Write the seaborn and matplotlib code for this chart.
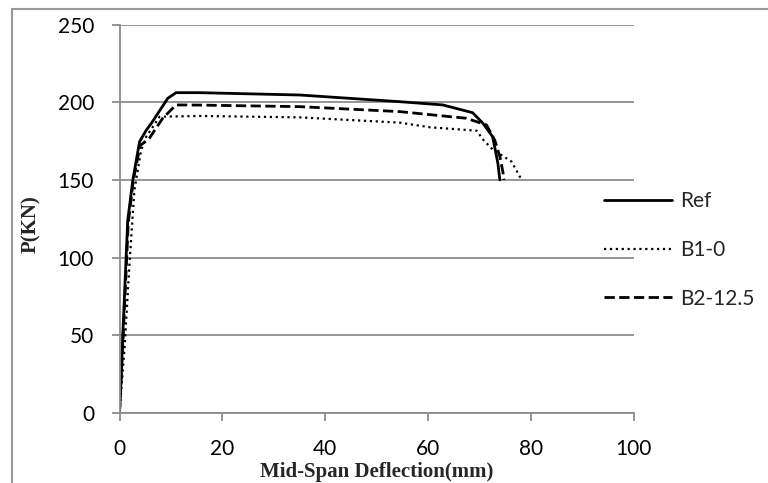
import pandas as pd
import matplotlib
matplotlib.use("Agg")
import matplotlib.pyplot as plt
import matplotlib.patches as patches
import seaborn as sns

sns.set_style("white")
plt.rcParams["font.family"] = ["Lato", "DejaVu Sans"]

# Mid-span deflection (mm) and load P (kN)
ref_x = [0, 0.33, 0.65, 1.6, 2.6, 3.9, 5.2, 6.2, 9.4, 11.0, 15.6, 35.1, 54.5, 62.9, 68.7, 70.7, 72.6, 73.6, 74.0]
ref_y = [0, 23, 51, 124, 150, 174.6, 182, 186.5, 202.6, 206.2, 206.2, 204.7, 200.4, 198.3, 193.3, 186.5, 177.8, 161, 150]

b1_x = [0, 1.0, 1.95, 2.9, 4.2, 5.2, 7.8, 15.6, 35.0, 54.5, 60.4, 69.5, 70.8, 72.7, 74.6, 76.3, 77.9, 78.2]
b1_y = [0, 42.5, 96.5, 143.5, 169, 177.8, 190.7, 191.2, 190.3, 186.9, 183.9, 181.7, 175.7, 169.2, 165.4, 161.7, 152, 150]

b2_x = [0, 0.4, 0.8, 1.7, 2.7, 4.0, 5.8, 8.4, 11.0, 15.6, 35.1, 54.5, 67.5, 71.4, 73.0, 74.0, 74.6, 74.8]
b2_y = [0, 28, 55, 122, 150, 172, 176.8, 189.7, 198.3, 198.2, 197.2, 194.0, 189.7, 185.4, 175.7, 165, 155, 150]

series = [("Ref", ref_x, ref_y, "-", 2.0),
          ("B1-0", b1_x, b1_y, ":", 1.6),
          ("B2-12.5", b2_x, b2_y, "--", 2.0)]

fig = plt.figure(figsize=(7.68, 4.83), dpi=100)
ax = fig.add_axes([119.5 / 768, 1 - 412.7 / 483, 514 / 768, 388 / 483])

for name, xs, ys, ls, lw in series:
    df = pd.DataFrame({"x": xs, "y": ys})
    sns.lineplot(data=df, x="x", y="y", ax=ax, color="black", linestyle=ls,
                 linewidth=lw, sort=False, estimator=None, label=name)

grid_c = "#8c8c8c"
ax.set_xlim(0, 100)
ax.set_ylim(0, 250)
ax.set_xticks(range(0, 101, 20))
ax.set_yticks(range(0, 251, 50))
ax.yaxis.grid(True, color=grid_c, linewidth=1.3)
ax.xaxis.grid(False)
ax.set_axisbelow(True)
for side in ["top", "right"]:
    ax.spines[side].set_visible(False)
for side in ["left", "bottom"]:
    ax.spines[side].set_color(grid_c)
    ax.spines[side].set_linewidth(1.3)
ax.tick_params(axis="both", direction="out", length=5.8, width=1.3, color=grid_c,
               labelsize=15, labelcolor="black")
ax.tick_params(axis="y", pad=12.5)
ax.tick_params(axis="x", pad=13)
ax.tick_params(left=True, bottom=True)

ax.set_xlabel("Mid-Span Deflection(mm)", fontfamily="Liberation Serif",
              fontweight="bold", fontsize=15, labelpad=2.5)
ax.set_ylabel("P(KN)", fontfamily="Liberation Serif", fontweight="bold",
              fontsize=15)
ax.yaxis.set_label_coords(-0.152, 0.485)

ax.legend(frameon=False, loc="center left", fontsize=15,
          bbox_to_anchor=(594 / 768, 1 - 250 / 483), bbox_transform=fig.transFigure,
          borderpad=0, handlelength=3.25, handletextpad=0.4, labelspacing=1.37)

fig.patches.append(patches.Rectangle((12 / 768, -0.2), 1.2, 1.2 - 9 / 483,
                                     transform=fig.transFigure, fill=False,
                                     edgecolor="#999999", linewidth=1.5))

fig.savefig("out.png", dpi=100)
